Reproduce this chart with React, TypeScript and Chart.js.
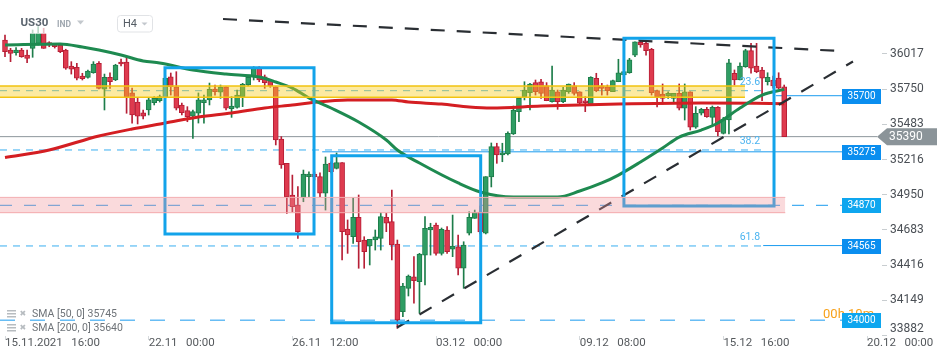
import React, { useEffect, useRef } from 'react';
import { Chart, registerables } from 'chart.js';

Chart.register(...registerables);

// ---------- data ----------
const opens = [
  36122, 36046, 36026, 36046, 36008, 36059, 36097, 36173, 36102, 36084,
  36084, 36046, 35925, 35915, 35849, 35839, 35874, 35946, 35749, 35839,
  35819, 35955, 35955, 35721, 35652, 35571, 35592, 35647, 35662, 35690,
  35844, 35768, 35630, 35587, 35546, 35567, 35647, 35668, 35751, 35726,
  35768, 35602, 35612, 35693, 35781, 35844, 35908, 35844, 35814, 35768,
  35372, 35188, 34948, 34872, 34930, 35087, 35107, 35087, 34961, 35190,
  35150, 35193, 34690, 34632, 34779, 34607, 34562, 34607, 34620, 34779,
  34746, 34577, 34064, 34241, 34329, 34291, 34493, 34683, 34721, 34506,
  34683, 34537, 34556, 34393, 34658, 34771, 34819, 34658, 35084, 35314,
  35251, 35259, 35410, 35579, 35693, 35723, 35799, 35806, 35774, 35655,
  35730, 35655, 35730, 35774, 35730, 35662, 35630, 35832, 35774, 35768,
  35730, 35806, 35857, 35874, 36008, 36105, 36097, 36052, 35738, 35713,
  35698, 35680, 35718, 35605, 35730, 35461, 35567, 35597, 35536, 35612,
  35415, 35516, 35870, 35819, 35920, 36041, 35925, 35895, 35806, 35819,
  35834, 35768,
];
const highs = [
  36160, 36059, 36064, 36059, 36046, 36198, 36223, 36211, 36109, 36092,
  36097, 36052, 35958, 35946, 35870, 35895, 35958, 35958, 35864, 35874,
  35938, 35978, 35991, 35758, 35683, 35592, 35683, 35693, 35705, 35857,
  35872, 35882, 35645, 35617, 35592, 35721, 35705, 35796, 35781, 35781,
  35768, 35693, 35743, 35794, 35844, 35920, 35920, 35857, 35819, 35768,
  35390, 35188, 35099, 35011, 35137, 35124, 35122, 35115, 35236, 35200,
  35266, 35193, 34759, 34925, 34948, 34632, 34612, 34683, 34814, 34809,
  34986, 34607, 34279, 34342, 34481, 34506, 34784, 34734, 34736, 34698,
  34708, 34796, 34645, 34594, 34821, 34834, 34865, 35087, 35342, 35340,
  35340, 35427, 35622, 35683, 35806, 35794, 35819, 35824, 35799, 35925,
  35743, 35764, 35789, 35799, 35730, 35693, 35844, 35870, 35794, 35781,
  35819, 35976, 35895, 35983, 36109, 36117, 36109, 36059, 35743, 35789,
  35730, 35718, 35789, 35789, 35730, 35617, 35605, 35612, 35622, 35617,
  35536, 35976, 35895, 35950, 36052, 36097, 36097, 35915, 35874, 35849,
  35874, 35781,
];
const lows = [
  35996, 35958, 36008, 35991, 35950, 35991, 36084, 36059, 36071, 36061,
  36026, 35900, 35864, 35819, 35819, 35832, 35870, 35751, 35592, 35756,
  35814, 35925, 35567, 35493, 35486, 35524, 35554, 35630, 35652, 35675,
  35705, 35592, 35554, 35503, 35377, 35493, 35493, 35630, 35705, 35680,
  35592, 35536, 35605, 35617, 35774, 35819, 35806, 35756, 35764, 35327,
  35150, 34809, 34821, 34620, 34897, 34935, 35062, 34935, 34834, 35115,
  35145, 34456, 34506, 34582, 34393, 34393, 34418, 34531, 34531, 34670,
  34456, 33938, 34026, 34183, 34128, 34052, 34266, 34493, 34493, 34493,
  34506, 34481, 34342, 34241, 34645, 34771, 34653, 34653, 35009, 35188,
  35200, 35251, 35406, 35503, 35668, 35592, 35705, 35680, 35662, 35652,
  35597, 35647, 35718, 35705, 35630, 35579, 35630, 35730, 35705, 35705,
  35730, 35806, 35849, 35870, 35996, 36067, 36008, 35705, 35615, 35637,
  35680, 35647, 35592, 35516, 35440, 35453, 35554, 35536, 35465, 35395,
  35410, 35410, 35781, 35819, 35915, 35870, 35874, 35662, 35781, 35758,
  35751, 35390,
];
const closes = [
  36033, 36021, 36046, 35996, 35983, 36173, 36173, 36059, 36084, 36071,
  36033, 35908, 35902, 35832, 35829, 35887, 35940, 35756, 35839, 35806,
  35933, 35940, 35690, 35554, 35546, 35546, 35668, 35680, 35693, 35834,
  35768, 35605, 35571, 35541, 35579, 35668, 35668, 35749, 35730, 35764,
  35605, 35622, 35705, 35789, 35839, 35908, 35819, 35799, 35774, 35365,
  35175, 34935, 34859, 34670, 35107, 35107, 35084, 34961, 35183, 35124,
  35193, 34670, 34645, 34779, 34594, 34518, 34612, 34632, 34784, 34734,
  34569, 34001, 34259, 34334, 34299, 34501, 34696, 34703, 34506, 34688,
  34518, 34562, 34393, 34569, 34779, 34814, 34668, 35087, 35314, 35251,
  35268, 35415, 35592, 35680, 35743, 35789, 35730, 35718, 35662, 35743,
  35655, 35743, 35789, 35718, 35643, 35647, 35839, 35738, 35756, 35738,
  35814, 35874, 35882, 35971, 36109, 36084, 36041, 35723, 35693, 35680,
  35718, 35718, 35605, 35730, 35461, 35567, 35597, 35541, 35612, 35427,
  35521, 35950, 35819, 35925, 36041, 35908, 35882, 35832, 35839, 35774,
  35758, 35390,
];

const sma50Idx = [0, 10, 14, 17, 21, 25, 28, 34, 40, 46, 49, 52, 55, 59, 64, 69, 71, 75, 82, 86, 92, 100, 104, 108, 111, 115, 119, 122, 126, 129, 133, 137, 141];
const sma50Val = [36084, 36092, 36069, 36046, 36008, 35963, 35948, 35895, 35864, 35842, 35804, 35758, 35683, 35607, 35501, 35365, 35289, 35190, 35039, 34971, 34933, 34933, 34978, 35039, 35099, 35198, 35304, 35387, 35440, 35493, 35607, 35705, 35748];
const sma200Idx = [0, 8, 17, 23, 29, 35, 41, 47, 52, 55, 62, 70, 73, 79, 84, 88, 97, 111, 126, 141];
const sma200Val = [35232, 35289, 35395, 35448, 35493, 35539, 35569, 35607, 35630, 35645, 35668, 35668, 35652, 35637, 35615, 35607, 35622, 35637, 35645, 35640];
const sma50Last = 35745;
const sma200Last = 35640;

const xTickIdx = [0, 26, 52, 78, 104, 130, 156];
const xTickLabels = ['15.11.2021   16:00', '22.11   00:00', '26.11   12:00', '03.12   00:00', '09.12   08:00', '15.12   16:00', '20.12   00:00'];
const yTicks = [33882, 34149, 34416, 34683, 34950, 35216, 35483, 35750, 36017];

const X_MIN = -0.905;
const X_MAX = 158.7;
const Y_MIN = 33880;
const Y_MAX = 36425;

// zones (price ranges) and where they end (candle index)
const yellowZone = [35688, 35774];
const yellowEnd = 133.9;
const pinkZone = [34814, 34930];
const pinkEnd = 141.2;

// fibonacci levels
const fibLevels = [35738, 35289, 34562];
const fibLabels = ['23.6', '38.2', '61.8'];
const fibEnd = 137.2;

// horizontal levels
const levelValues = [35700, 35275, 34870, 34565, 34000];
const levelStart = [139.5, 57.4, X_MIN, 137.2, X_MIN];
const levelDashed = [false, false, true, false, true];
const levelEnd = 151.47;

const lastPrice = 35390;
const lastPriceEnd = 157.8;
const countdownText = '00h 10m';

// rectangles: [startIdx, endIdx], [topPrice, bottomPrice]
const boxesX = [[28.95, 55.92], [59.12, 86.08], [112.0, 139.16]];
const boxesY = [[35912, 34653], [35246, 33981], [36135, 34865]];

// trend lines
const trendX = [[39.45, 150.9], [70.94, 153.45]];
const trendY = [[36281, 36039], [33944, 35959]];

// ---------- styles ----------
const FONT = 'Roboto, "Open Sans", "DejaVu Sans", sans-serif';
const GREEN = '#2e9d63';
const GREEN_EDGE = '#1d7d4a';
const RED = '#de3a4e';
const RED_EDGE = '#b71f36';
const BLUE_BOX = '#12a3ea';
const LEVEL_BLUE = '#1a9bef';
const FIB_BLUE = '#3aaff0';

const overlayPlugin = {
  id: 'overlay',
  afterDraw(chart: any) {
    const { ctx, chartArea } = chart;
    const xs = chart.scales.x;
    const ys = chart.scales.y;
    const px = (i: number) => xs.getPixelForValue(i);
    const py = (v: number) => ys.getPixelForValue(v);
    ctx.save();

    // fib labels
    ctx.font = `10.5px ${FONT}`;
    ctx.fillStyle = '#4cb4f0';
    ctx.textAlign = 'right';
    ctx.textBaseline = 'middle';
    fibLevels.forEach((v, k) => ctx.fillText(fibLabels[k], px(fibEnd) - 3, py(v) - 8.5));

    // countdown
    const lx = px(levelEnd);
    ctx.font = `13px ${FONT}`;
    ctx.fillStyle = '#f7a11a';
    ctx.textAlign = 'left';
    ctx.fillText(countdownText, lx - 19, py(34000) - 5);

    // level boxes
    ctx.font = `10px ${FONT}`;
    ctx.textAlign = 'center';
    levelValues.forEach((v, k) => {
      const y = Math.round(py(v));
      ctx.fillStyle = levelDashed[k] ? '#0ea6ef' : '#0a8eef';
      ctx.fillRect(Math.round(lx), y - 7, 39, 15);
      ctx.fillStyle = '#ffffff';
      ctx.fillText(String(v), Math.round(lx) + 19.5, y + 0.5);
    });

    // last price tag
    const ty = py(lastPrice);
    const tx = chartArea.right - 5;
    ctx.fillStyle = '#8b9499';
    ctx.beginPath();
    ctx.moveTo(tx, ty);
    ctx.lineTo(tx + 10, ty - 8.5);
    ctx.lineTo(tx + 60, ty - 8.5);
    ctx.lineTo(tx + 60, ty + 8.5);
    ctx.lineTo(tx + 10, ty + 8.5);
    ctx.closePath();
    ctx.fill();
    ctx.fillStyle = '#ffffff';
    ctx.font = `12px ${FONT}`;
    ctx.textAlign = 'left';
    ctx.fillText(String(lastPrice), tx + 12, ty + 0.5);

    // header
    ctx.fillStyle = 'rgba(255,255,255,0.7)';
    ctx.fillRect(0, 0, 170, 34);
    ctx.font = `bold 11.5px ${FONT}`;
    ctx.fillStyle = '#5a646e';
    ctx.textAlign = 'left';
    ctx.fillText('US30', 20.5, 23.5);
    ctx.font = `bold 8.5px ${FONT}`;
    ctx.fillStyle = '#a0a8b0';
    ctx.fillText('IND', 57, 24.5);
    ctx.fillStyle = '#c3c8cd';
    ctx.beginPath();
    ctx.moveTo(77, 20.5); ctx.lineTo(84, 20.5); ctx.lineTo(80.5, 24.5); ctx.closePath(); ctx.fill();
    ctx.strokeStyle = '#e1e3e6';
    ctx.lineWidth = 1;
    ctx.beginPath();
    (ctx as any).roundRect(117.5, 15.5, 35, 16.5, 3);
    ctx.stroke();
    ctx.font = `11px ${FONT}`;
    ctx.fillStyle = '#555d65';
    ctx.fillText('H4', 123, 24);
    ctx.fillStyle = '#c3c8cd';
    ctx.beginPath();
    ctx.moveTo(141.5, 22.5); ctx.lineTo(147.5, 22.5); ctx.lineTo(144.5, 25.5); ctx.closePath(); ctx.fill();

    // SMA legend
    const rows = [
      { txt: `SMA [50, 0] ${sma50Last}`, y: 314 },
      { txt: `SMA [200, 0] ${sma200Last}`, y: 328 },
    ];
    rows.forEach((r) => {
      ctx.fillStyle = '#b7bcc0';
      ctx.fillRect(7, r.y - 4, 9, 1.5);
      ctx.fillRect(7, r.y - 1, 9, 1.5);
      ctx.fillRect(7, r.y + 2, 9, 1.5);
      ctx.font = `8px "DejaVu Sans", sans-serif`;
      ctx.fillStyle = '#b7bcc0';
      ctx.fillText('\u2716', 19.5, r.y);
      ctx.font = `10.5px ${FONT}`;
      ctx.fillStyle = '#6e7378';
      ctx.fillText(r.txt, 32, r.y);
    });
    ctx.restore();
  },
};

export default function App() {
  const ref = useRef<HTMLCanvasElement>(null);

  useEffect(() => {
    const canvas = ref.current;
    if (!canvas) return;
    const idx = opens.map((_, i) => i);
    const up = idx.map((i) => closes[i] >= opens[i]);

    const line = (pts: any[], color: string, width: number, dash: number[], order: number, extra: any = {}) => ({
      type: 'line',
      data: pts,
      borderColor: color,
      borderWidth: width,
      borderDash: dash,
      pointRadius: 0,
      fill: false,
      tension: 0,
      order,
      ...extra,
    });

    const datasets: any[] = [];

    // fib dashed lines
    fibLevels.forEach((v) => {
      datasets.push(line([{ x: X_MIN, y: v }, { x: fibEnd, y: v }], FIB_BLUE, 1, [7, 6], 20));
    });
    // horizontal levels
    levelValues.forEach((v, k) => {
      const dash = levelDashed[k] ? (v === 34000 ? [15, 15] : [12, 12]) : [];
      datasets.push(line([{ x: levelStart[k], y: v }, { x: levelEnd, y: v }], LEVEL_BLUE, 1, dash, 20));
    });
    // last price line
    datasets.push(line([{ x: X_MIN, y: lastPrice }, { x: lastPriceEnd, y: lastPrice }], '#8d969c', 1, [], 19));

    // candles
    datasets.push({
      type: 'bar',
      data: idx.map((i) => ({ x: i, y: [lows[i], highs[i]] })),
      backgroundColor: idx.map((i) => (up[i] ? GREEN_EDGE : RED_EDGE)),
      barThickness: 1,
      grouped: false,
      borderWidth: 0,
      order: 15,
    });
    datasets.push({
      type: 'bar',
      data: idx.map((i) => ({ x: i, y: [opens[i], closes[i]] })),
      backgroundColor: idx.map((i) => (up[i] ? GREEN : RED)),
      borderColor: idx.map((i) => (up[i] ? GREEN_EDGE : RED_EDGE)),
      borderWidth: 1,
      borderSkipped: false,
      barThickness: 5,
      minBarLength: 2,
      grouped: false,
      order: 14,
    });

    // SMAs
    datasets.push(line(sma200Idx.map((x, k) => ({ x, y: sma200Val[k] })), '#d41e22', 3, [], 12, { cubicInterpolationMode: 'monotone' }));
    datasets.push(line(sma50Idx.map((x, k) => ({ x, y: sma50Val[k] })), '#1e8a50', 3, [], 11, { cubicInterpolationMode: 'monotone' }));

    // trend lines
    trendX.forEach((tx, k) => {
      datasets.push(line([{ x: tx[0], y: trendY[k][0] }, { x: tx[1], y: trendY[k][1] }], '#2a2e33', 2.2, [14, 12], 10));
    });

    // boxes
    boxesX.forEach((bx, k) => {
      const [x0, x1] = bx;
      const [t, b] = boxesY[k];
      datasets.push(line([
        { x: x0, y: t }, { x: x1, y: t }, { x: x1, y: b }, { x: x0, y: b }, { x: x0, y: t },
      ], BLUE_BOX, 3, [], 9, { borderJoinStyle: 'miter', borderCapStyle: 'square' }));
    });

    // pink zone
    datasets.push(line([{ x: X_MIN, y: pinkZone[0] }, { x: pinkEnd, y: pinkZone[0] }], '#f3aeb1', 1, [], 5));
    datasets.push(line([{ x: X_MIN, y: pinkZone[1] }, { x: pinkEnd, y: pinkZone[1] }], '#f3aeb1', 1, [], 4, {
      fill: '-1', backgroundColor: 'rgba(240,150,155,0.35)',
    }));
    // yellow zone
    datasets.push(line([{ x: X_MIN, y: yellowZone[0] }, { x: yellowEnd, y: yellowZone[0] }], '#f2c30f', 1.5, [], 3));
    datasets.push(line([{ x: X_MIN, y: yellowZone[1] }, { x: yellowEnd, y: yellowZone[1] }], '#f2c30f', 1.5, [], 2, {
      fill: '-1', backgroundColor: 'rgba(247,205,30,0.42)',
    }));

    const chart = new Chart(canvas, {
      type: 'bar',
      data: { datasets },
      options: {
        responsive: false,
        animation: false,
        events: [],
        layout: { padding: 0 },
        plugins: {
          legend: { display: false },
          tooltip: { enabled: false },
          title: { display: false },
        },
        scales: {
          x: {
            type: 'linear',
            min: X_MIN,
            max: X_MAX,
            offset: false,
            grid: { drawOnChartArea: false, drawTicks: true, tickLength: 4, color: '#d5d9dc', offset: false },
            border: { display: false },
            ticks: {
              autoSkip: false,
              maxRotation: 0,
              minRotation: 0,
              align: 'start',
              padding: -4,
              color: '#55595d',
              font: { size: 11.5, family: FONT },
              callback: (v: any) => {
                const k = xTickIdx.indexOf(Number(v));
                return k >= 0 ? xTickLabels[k] : '';
              },
            },
            afterBuildTicks: (s: any) => {
              s.ticks = xTickIdx.map((v) => ({ value: v }));
            },
            afterFit: (s: any) => {
              s.height = 25;
              s.paddingLeft = 0;
              s.paddingRight = 0;
            },
          },
          y: {
            type: 'linear',
            position: 'right',
            min: Y_MIN,
            max: Y_MAX,
            grid: { drawOnChartArea: false, drawTicks: true, tickLength: 5, color: '#c8cdd0' },
            border: { display: false },
            ticks: {
              autoSkip: false,
              padding: 3,
              color: '#4a4f55',
              font: { size: 12, family: FONT },
              callback: (v: any) => (Number(v) === yTicks[0] ? [String(v), ''] : String(v)),
            },
            afterBuildTicks: (s: any) => {
              s.ticks = yTicks.map((v) => ({ value: v }));
            },
            afterFit: (s: any) => {
              s.width = 68;
              s.paddingTop = 0;
              s.paddingBottom = 0;
            },
          },
        },
      } as any,
      plugins: [overlayPlugin],
    } as any);

    return () => chart.destroy();
  }, []);

  return (
    <div style={{ position: 'fixed', left: 0, top: 0, width: 950, height: 361, background: '#ffffff' }}>
      <canvas ref={ref} width={950} height={361} style={{ display: 'block', width: 950, height: 361 }} />
    </div>
  );
}
